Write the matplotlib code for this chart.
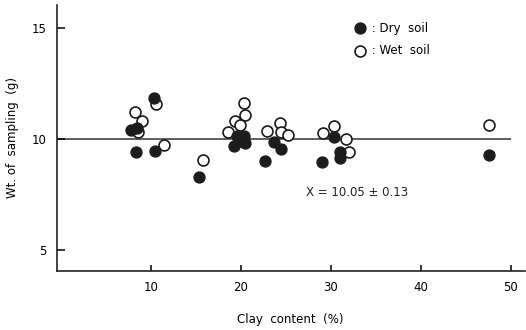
import matplotlib
matplotlib.use('Agg')
import matplotlib.pyplot as plt

# clay content (%) and weight of sampling (g)
dry_x = [10.3, 7.8, 8.4, 8.3, 10.4, 15.3, 19.5, 20.3, 19.2, 20.4, 19.8, 20.0,
         23.7, 24.4, 22.7, 30.3, 29.0, 31.0, 31.0, 47.5]
dry_y = [11.83, 10.42, 10.48, 9.4, 9.46, 8.27, 10.15, 10.15, 9.7, 9.8, 9.9, 10.05,
         9.88, 9.54, 9.0, 10.07, 8.98, 9.43, 9.13, 9.28]

wet_x = [10.6, 8.2, 9.0, 8.6, 11.4, 15.8, 20.3, 20.4, 19.3, 19.9, 18.5, 22.9,
         24.3, 24.4, 25.2, 29.1, 30.3, 31.7, 32.0, 47.5]
wet_y = [11.58, 11.2, 10.81, 10.3, 9.73, 9.05, 11.64, 11.08, 10.82, 10.63, 10.33, 10.37,
         10.7, 10.33, 10.18, 10.28, 10.58, 9.99, 9.43, 10.63]

mean_line = 10.0
line_end = 50.0
x_ticks = [10, 20, 30, 40, 50]
y_ticks = [5, 10, 15]
note = 'X = 10.05 ± 0.13'

plt.rcParams['font.family'] = ['DejaVu Sans']

fig = plt.figure(figsize=(5.26, 3.30), dpi=100)
ax = fig.add_axes([56.5 / 526, 1 - 271 / 330, 468 / 526, 266 / 330])

ax.set_xlim(-0.5, 51.5)
ax.set_ylim(4.05, 16.04)

ax.hlines(mean_line, -0.5, line_end, color='#333333', linewidth=1.1, zorder=1)

ax.scatter(wet_x, wet_y, s=62, facecolor='white', edgecolor='#1a1a1a',
           linewidth=1.2, zorder=2, label=' : Wet  soil')
ax.scatter(dry_x, dry_y, s=62, facecolor='#1c1c1c', edgecolor='#1c1c1c',
           linewidth=1.0, zorder=3, label=' : Dry  soil')

handles, labels = ax.get_legend_handles_labels()
ax.legend(handles[::-1], labels[::-1], loc='upper left', bbox_to_anchor=(0.62, 0.96),
          frameon=False, fontsize=8.5, handletextpad=0.1, labelspacing=0.8,
          borderpad=0, handlelength=1.2)

ax.text(27.2, 7.6, note, fontsize=8.5, va='center', ha='left', color='#222222')

for side in ['top', 'right']:
    ax.spines[side].set_visible(False)
for side in ['left', 'bottom']:
    ax.spines[side].set_linewidth(1.2)
    ax.spines[side].set_color('#222222')

ax.set_xticks(x_ticks)
ax.set_yticks(y_ticks)
ax.tick_params(axis='x', direction='in', length=4, width=1.1, labelsize=8.5, pad=7)
ax.tick_params(axis='y', direction='in', length=5.5, width=1.1, labelsize=8.5, pad=7)

ax.set_xlabel('Clay  content  (%)', fontsize=8.5, labelpad=14)
ax.set_ylabel('Wt. of  sampling  (g)', fontsize=8.5, labelpad=9)

fig.savefig('out.png', dpi=100)
